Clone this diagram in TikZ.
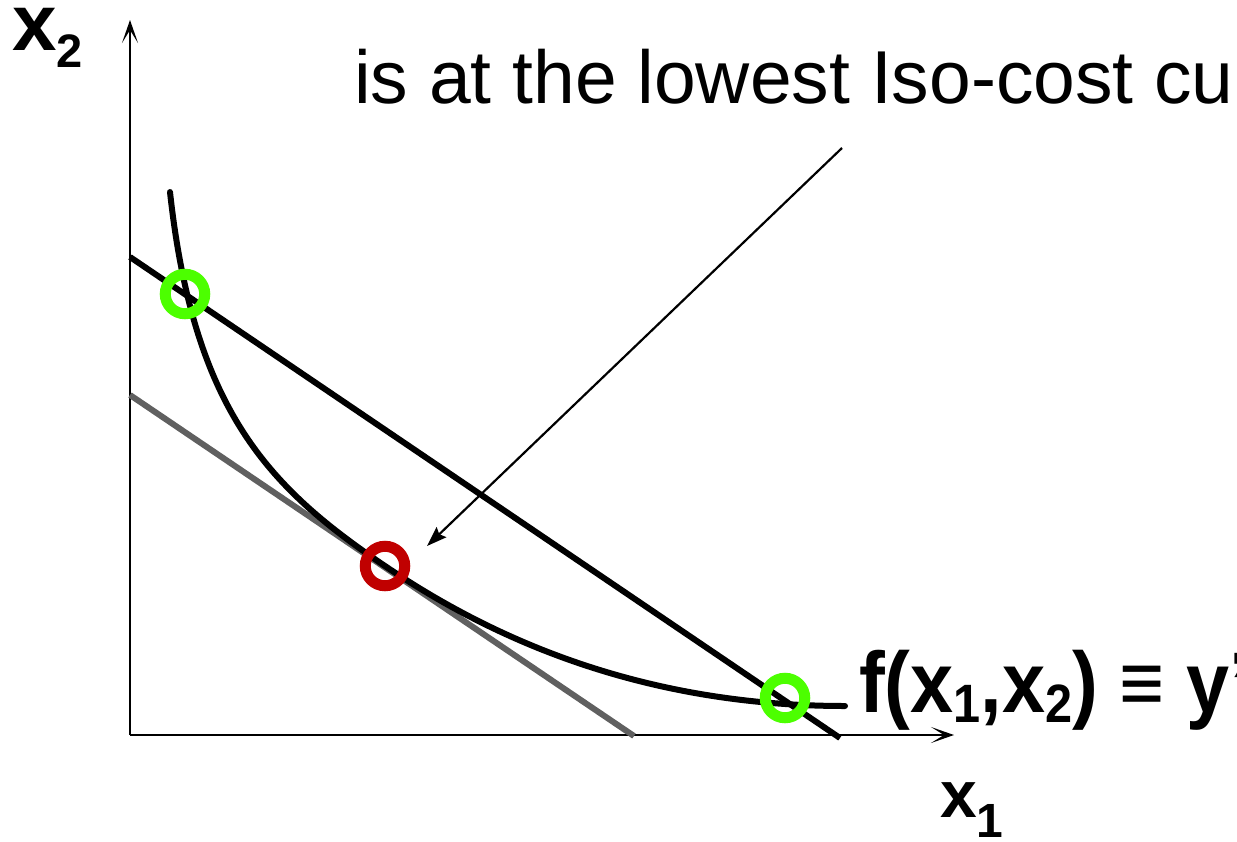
\documentclass[tikz,border=0pt]{standalone}
\usepackage{fontspec}
\setmainfont{Liberation Sans}
\usetikzlibrary{arrows.meta}
\definecolor{ringgreen}{HTML}{4CFF00}
\definecolor{ringred}{HTML}{C00000}
\definecolor{tangentgray}{HTML}{606060}
\tikzset{
  axisline/.style={line width=2.8pt, -{Stealth[length=23pt,width=16pt,inset=13pt]}},
  costline/.style={line width=6pt, black},
  lowline/.style={line width=6pt, tangentgray},
  isoquant/.style={line width=6pt, black, line cap=round},
  pointer/.style={line width=2.2pt, -{Stealth[length=20pt,width=14pt,inset=3pt]}},
  ring/.style={circle, draw=#1, line width=11pt, minimum size=39.5pt, inner sep=0pt},
  lbl/.style={anchor=base west, inner sep=0pt, font=\bfseries}
}
\begin{document}
\begin{tikzpicture}[x=1pt,y=-1pt]
\useasboundingbox (0,0) rectangle (1237,841);
% axes
\coordinate (O) at (130,735);
\coordinate (ytip) at (130,20);
\coordinate (xtip) at (954,735);
\draw[axisline] (O) -- (ytip);
\draw[axisline] (O) -- (xtip);
% iso-cost lines
\coordinate (c1a) at (130,257);
\coordinate (c1b) at (840,738);
\coordinate (c2a) at (130,395);
\coordinate (c2b) at (634,736);
\draw[lowline] (c2a) -- (c2b);
\draw[costline] (c1a) -- (c1b);
% isoquant
\coordinate (q0) at (170,192);
\coordinate (qm) at (385,566);
\coordinate (q1) at (845,706);
\draw[isoquant] (q0) .. controls (194,412) and (270,488.3) .. (qm)
                     .. controls (475,626.8) and (625,706) .. (q1);
% circles
\node[ring=ringgreen] (g1) at (185,294) {};
\node[ring=ringgreen] (g2) at (785,698) {};
\node[ring=ringred] (r1) at (385,566) {};
% pointer
\coordinate (ps) at (842,148);
\coordinate (pe) at (427,546);
\draw[pointer] (ps) -- (pe);
% labels
\node[anchor=base west, inner sep=0pt] (title) at (354,103)
  {\fontsize{75}{75}\selectfont is at the lowest Iso-cost cu};
\node[lbl] (x2lab) at (12,50)
  {\fontsize{80}{80}\selectfont x\raisebox{-17pt}{\fontsize{47}{47}\selectfont 2}};
\node[lbl] (x1lab) at (940,817)
  {\fontsize{66}{66}\selectfont x\raisebox{-20pt}{\fontsize{48}{48}\selectfont 1}};
\node[lbl] (flab) at (859,712)
  {\scalebox{0.9}[1]{\fontsize{86}{86}\selectfont f(x\raisebox{-10pt}{\fontsize{54}{54}\selectfont 1},x\raisebox{-10pt}{\fontsize{54}{54}\selectfont 2}) ≡ y’}};
\end{tikzpicture}
\end{document}
